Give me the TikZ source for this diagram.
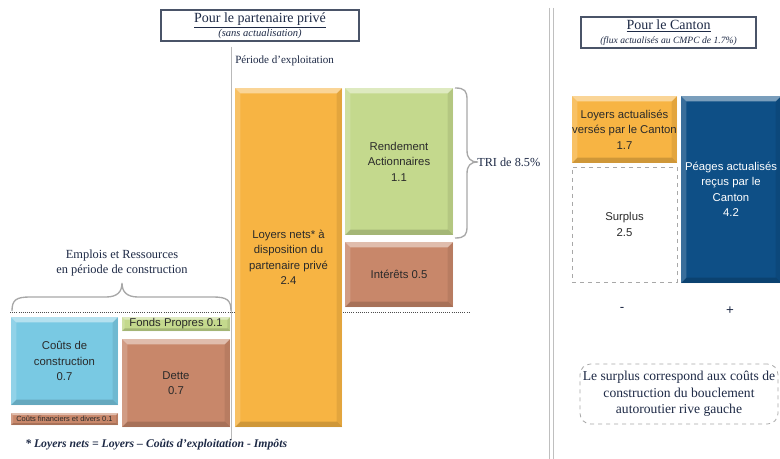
\documentclass[tikz,border=0pt]{standalone}
\usepackage{fontspec}
\setmainfont{Liberation Serif}
\setsansfont{Liberation Sans}
\usetikzlibrary{calc}

\definecolor{orng}{HTML}{F7B443}
\definecolor{lgrn}{HTML}{C4D98D}
\definecolor{brwn}{HTML}{C8876A}
\definecolor{lblu}{HTML}{79C9E3}
\definecolor{dblu}{HTML}{0E4F86}
\definecolor{navy}{HTML}{1E2A46}
\definecolor{framec}{HTML}{4A5468}
\definecolor{grline}{HTML}{A8A8A8}
\definecolor{barText}{HTML}{2A2A2A}

\tikzset{
  % a box given by its corners (x1,y1) and (x2,y2), in picture units
  span/.style n args={4}{
    minimum width={(#3-#1)*0.75pt}, minimum height={(#4-#2)*0.75pt},
    at={({(#1+#3)/2},{(#2+#4)/2})}},
  bevel/.style={path picture={
    \coordinate (sw) at (path picture bounding box.south west);
    \coordinate (ne) at (path picture bounding box.north east);
    \coordinate (nw) at (sw|-ne);
    \coordinate (se) at (ne|-sw);
    \fill[white,opacity=.45] (nw) -- (ne) -- ($(ne)+(-#1,-#1)$) -- ($(nw)+(#1,-#1)$) -- cycle;
    \fill[white,opacity=.18] (nw) -- ($(nw)+(#1,-#1)$) -- ($(sw)+(#1,#1)$) -- (sw) -- cycle;
    \fill[black,opacity=.08] (ne) -- ($(ne)+(-#1,-#1)$) -- ($(se)+(-#1,#1)$) -- (se) -- cycle;
    \fill[black,opacity=.16] (sw) -- ($(sw)+(#1,#1)$) -- ($(se)+(-#1,#1)$) -- (se) -- cycle;
  }},
  bevel/.default=4pt,
  bar/.style={inner sep=0pt, bevel, align=center, text=barText,
    font=\sffamily\fontsize{8.5}{11.6}\selectfont},
  serif/.style={text=navy, align=center, inner sep=0pt},
  titlebox/.style={draw=framec, line width=0.8pt, fill=white, inner sep=0pt, align=center, text=navy},
  brace/.style={draw=grline, line width=1pt},
  dashbox/.style={draw=grline, dashed, line width=0.6pt, inner sep=0pt, align=center},
}

\begin{document}
\begin{tikzpicture}[x=0.75pt,y=-0.75pt]
\clip (0,0) rectangle (780,459);
\fill[white] (0,0) rectangle (780,459);

% separators
\draw[grline!80, line width=0.7pt] (231,47) -- (231,440);
\draw[black!25, line width=1.1pt] (549.5,8) -- (549.5,459);
\draw[black!25, line width=1.1pt] (553.5,8) -- (553.5,459);

% construction / exploitation boundary
\draw[black!70, line width=0.6pt, densely dotted] (10,312) -- (470,312);

% titles
\node[titlebox, span={161}{10}{359}{41}] (ttlprive)
  {\fontsize{10.5}{12}\selectfont\underline{Pour le partenaire privé}\\[-1.5pt]
   {\fontsize{7.9}{8}\selectfont\itshape(sans actualisation)}};
\node[titlebox, span={581}{17}{756}{48}] (ttlcanton)
  {\fontsize{10.5}{12}\selectfont\underline{Pour le Canton}\\[-1.5pt]
   {\fontsize{7.2}{8}\selectfont\itshape(flux actualisés au CMPC de 1.7\%)}};

\node[serif, anchor=west, font=\fontsize{8.3}{10}\selectfont] (periode) at (235,61) {Période d’exploitation};

% exploitation period
\node[bar, fill=orng, span={235}{88}{342}{427}] (loyers)
  {Loyers nets* à\\disposition du\\partenaire privé\\2.4};
\node[bar, fill=lgrn, span={345}{88}{453}{235}] (rendement)
  {Rendement\\Actionnaires\\1.1};
\node[bar, fill=brwn, span={345}{242}{453}{307}] (interets) {Intérêts 0.5};

\draw[brace] (455,88) .. controls (465,88) and (467,91) .. (467,100) -- (467,150)
  .. controls (467,158) and (470,162) .. (478,162)
  .. controls (470,162) and (467,166) .. (467,174) -- (467,226)
  .. controls (467,235) and (465,238) .. (455,238);
\node[serif, anchor=west, font=\fontsize{9.2}{10}\selectfont] (tri) at (477,162) {TRI de 8.5\%};

% construction period
\draw[brace] (12,311) .. controls (12,300) and (16,297) .. (30,297) -- (106,297)
  .. controls (117,297) and (122,292) .. (122,283)
  .. controls (122,292) and (127,297) .. (138,297) -- (213,297)
  .. controls (227,297) and (231,300) .. (231,311);
\node[serif, font=\fontsize{9.3}{11.2}\selectfont] (emplois) at (122,263)
  {Emplois et Ressources\\en période de construction};

\node[bar, fill=lblu, span={11}{317}{118}{405}] (couts) {Coûts de\\construction\\0.7};
\node[bar, fill=brwn, bevel=1.5pt, span={11}{413}{118}{425},
  font=\sffamily\fontsize{5.6}{6}\selectfont] (financiers) {Coûts financiers et divers 0.1};
\node[bar, fill=lgrn, bevel=2pt, span={122}{317}{230}{331}] (fonds) {Fonds Propres 0.1};
\node[bar, fill=brwn, span={122}{339}{230}{427}] (dette) {Dette\\0.7};

\node[serif, anchor=west, font=\bfseries\itshape\fontsize{8.8}{10}\selectfont] (footnote) at (25,445)
  {* Loyers nets = Loyers – Coûts d’exploitation - Impôts};

% canton side
\node[bar, fill=orng, span={572}{96}{677}{163}] (loyact)
  {Loyers actualisés\\versés par le Canton\\1.7};
\node[dashbox, fill=white, text=barText, font=\sffamily\fontsize{8.5}{11.6}\selectfont,
  span={572}{167}{677}{282}] (surplus) {Surplus\\2.5};
\node[bar, fill=dblu, text=white, span={681}{96}{781}{283}] (peages)
  {Péages actualisés\\reçus par le\\Canton\\4.2};

\node[text=navy, font=\sffamily\fontsize{10}{12}\selectfont] (moins) at (622,309) {-};
\node[text=navy, font=\sffamily\fontsize{10}{12}\selectfont] (plus) at (730,311) {+};

\node[dashbox, rounded corners=8pt, text=navy, font=\fontsize{10.2}{12.5}\selectfont,
  span={580}{364}{778}{424}] (note)
  {Le surplus correspond aux coûts de\\construction du bouclement\\autoroutier rive gauche};
\end{tikzpicture}
\end{document}
